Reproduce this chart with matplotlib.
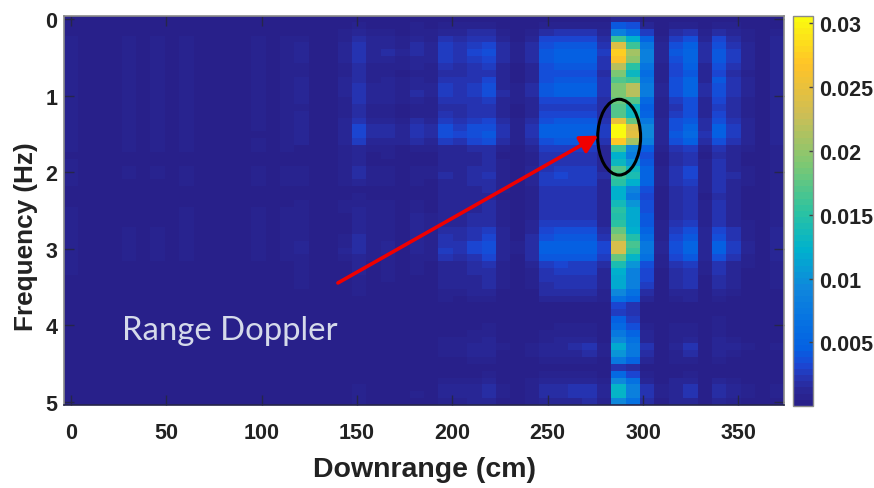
import numpy as np
import matplotlib
matplotlib.use("Agg")
import matplotlib.pyplot as plt
from matplotlib.colors import LinearSegmentedColormap
from matplotlib.patches import Ellipse

xticks = [0, 50, 100, 150, 200, 250, 300, 350]
yticks = [0, 1, 2, 3, 4, 5]
cbar_ticks = [0.005, 0.01, 0.015, 0.02, 0.025, 0.03]
cbar_labels = ['0.005', '0.01', '0.015', '0.02', '0.025', '0.03']
note = 'Range Doppler'
xlabel = 'Downrange (cm)'
ylabel = 'Frequency (Hz)'

# left-hand faint columns, units of 1e-4
A = [6,2,2,2,6,2,6,2,6,2,2,2,2,6,2,6]
B = [6,2,2,2,2,2,2,2,6,2,2,2,2,6,2,6]
C = [2]*16
D = [6]+[2]*15
T = [1]*16

# amplitude per (row, column), units of 1e-4
amplitude = [
 T+[2,2,2,3,4,3,3,2,3,3,4,4,4,5,3,2,3,5,5,5,5,4,10,10,4,2,4,5,3,5,4,2,1,3],
 C+[2,2,2,4,6,4,4,3,6,4,7,7,7,8,5,3,5,9,9,9,9,6,40,35,12,3,7,9,5,8,6,3,2,4],
 C+[5,3,3,6,12,7,7,4,9,6,14,12,15,17,9,4,9,19,20,20,20,12,85,60,28,5,18,23,8,18,12,6,3,7],
 A+[8,3,3,9,18,10,10,6,13,9,20,17,20,24,12,5,13,30,32,32,32,18,160,120,50,8,28,38,12,30,18,8,4,10],
 A+[12,4,4,12,24,14,13,9,16,12,26,22,26,30,15,7,17,38,42,42,42,23,240,160,75,11,36,48,16,38,23,11,5,13],
 A+[12,4,4,13,24,14,15,10,15,12,28,24,30,34,16,7,18,43,48,48,48,25,275,210,85,12,40,52,18,42,26,12,5,14],
 A+[11,4,4,12,23,12,14,9,13,10,27,24,28,33,15,6,17,42,46,46,46,24,265,200,85,12,38,50,17,40,25,12,5,14],
 A+[6,3,3,8,16,8,9,6,10,9,20,18,22,26,12,5,13,36,40,40,40,20,220,150,70,9,32,44,14,34,21,10,4,11],
 A+[6,3,3,7,15,7,8,5,9,8,18,16,20,24,10,4,12,34,38,38,38,19,190,130,60,8,30,42,12,32,19,9,4,10],
 A+[11,4,4,10,18,8,11,6,10,9,22,20,24,30,12,5,14,38,42,40,40,22,170,160,70,9,36,50,14,40,24,11,5,13],
 A+[12,4,4,12,22,13,12,8,14,11,25,22,28,34,14,6,15,40,44,44,44,23,190,220,80,10,38,50,15,38,22,10,4,12],
 A+[12,4,4,12,24,14,12,9,16,12,26,23,28,35,15,6,16,40,44,44,44,22,190,220,80,10,38,50,15,38,22,10,4,12],
 A+[11,4,4,9,20,12,10,7,12,9,22,20,22,26,13,6,13,30,32,32,30,16,180,170,55,8,28,36,12,32,18,9,4,11],
 A+[7,3,3,8,15,8,7,2,6,7,18,17,20,22,10,4,11,26,28,28,28,16,170,130,45,7,24,34,10,28,17,7,3,10],
 A+[10,3,3,9,18,9,8,5,8,8,20,18,22,24,12,5,13,30,30,30,30,18,170,130,50,8,28,36,12,30,19,8,3,10],
 A+[13,4,4,12,24,12,12,8,16,13,26,23,28,32,15,6,17,38,40,40,40,22,250,180,75,10,34,42,16,36,21,10,4,12],
 [9,2,2,2,6,2,6,2,9,2,2,2,2,8,4,9]+[12,4,4,14,30,16,18,12,24,18,36,28,34,38,20,8,22,44,46,46,46,28,305,240,95,14,38,52,18,44,28,13,5,14],
 [9,2,2,2,6,2,6,2,9,2,2,2,2,5,3,9]+[13,4,4,14,30,17,18,12,24,18,38,30,36,42,20,8,22,46,48,48,48,28,305,245,95,14,40,54,20,44,28,13,5,14],
 A+[12,3,3,13,25,14,14,10,18,14,28,24,30,34,16,7,18,38,42,40,40,24,270,210,85,12,36,46,16,36,22,11,4,12],
 A+[4,2,2,7,14,7,7,4,8,7,13,13,16,18,9,3,10,26,28,28,26,14,160,95,45,7,20,28,7,22,14,6,2,8],
 C+[5,2,2,6,12,2,6,2,5,4,10,10,13,15,5,2,8,20,23,23,22,12,120,80,38,4,16,22,5,18,11,5,2,6],
 D+[5,2,2,6,12,4,5,2,5,5,11,11,13,15,6,2,8,20,24,24,23,12,130,105,42,5,18,24,6,20,12,5,2,7],
 A+[6,2,2,7,16,6,7,2,9,6,14,14,16,18,8,3,10,24,28,26,26,14,170,130,50,6,20,30,8,24,14,6,2,8],
 A+[6,2,2,7,16,6,7,3,8,6,15,14,17,20,9,3,11,26,30,28,28,15,160,140,52,7,22,30,9,24,15,7,2,8],
 B+[6,2,2,7,12,6,6,2,6,5,14,14,16,18,8,3,10,26,28,28,28,14,150,120,50,6,22,28,8,24,13,6,2,7],
 C+[2,2,2,3,5,2,2,2,5,5,12,12,14,16,6,2,8,22,24,22,22,12,120,90,35,5,18,24,6,20,11,4,2,6],
 C+[3,2,2,3,6,3,3,2,5,5,11,10,12,14,5,2,7,20,20,20,20,10,120,75,32,4,16,22,5,18,10,4,2,6],
 C+[6,2,2,6,9,6,6,3,6,5,12,11,13,15,6,2,8,22,24,24,22,12,135,105,36,5,18,24,6,20,11,5,2,7],
 B+[6,2,2,6,10,6,6,3,6,5,12,11,14,16,7,3,8,22,24,24,24,12,150,115,38,5,18,24,7,20,12,5,2,7],
 B+[7,2,2,5,10,6,6,2,10,6,13,12,15,17,7,3,9,22,24,24,24,12,145,115,40,5,18,24,7,20,12,5,2,7],
 B+[7,2,2,5,10,6,6,2,10,6,14,13,16,18,8,3,10,26,26,26,26,14,150,115,40,6,20,28,7,22,14,6,2,8],
 A+[8,2,2,5,14,6,6,3,12,7,17,16,22,26,10,4,13,32,34,34,34,18,180,120,52,7,28,36,10,30,20,8,3,10],
 A+[9,3,3,6,15,7,7,4,13,8,21,18,24,30,12,5,15,38,40,40,40,22,200,145,60,8,32,42,12,38,22,9,3,11],
 A+[12,3,3,8,16,8,10,5,14,9,24,21,30,37,14,6,17,44,46,44,46,30,235,165,75,10,36,50,14,44,26,10,4,13],
 A+[12,3,3,10,16,8,11,5,14,9,25,22,30,36,14,6,17,44,46,44,46,30,235,155,75,10,36,50,14,44,26,10,4,13],
 A+[7,3,3,6,14,6,8,3,8,8,20,18,24,30,12,5,15,40,42,40,42,26,180,125,65,9,32,42,12,38,22,8,3,11],
 D+[7,2,2,5,10,5,6,2,6,5,14,13,17,20,8,3,10,28,30,28,28,16,140,105,38,6,22,28,7,22,14,6,2,8],
 D+[7,2,2,2,10,2,6,2,6,5,13,12,15,18,7,2,9,24,26,26,26,14,120,85,32,5,18,24,6,20,12,5,2,7],
 C+[7,2,2,2,9,2,6,2,5,4,12,11,14,17,6,2,9,22,24,24,24,13,115,85,32,5,18,22,5,18,11,4,2,7],
 C+[7,2,2,2,8,2,5,2,4,4,11,10,13,17,6,2,8,19,22,22,22,12,115,85,28,4,16,20,5,16,10,4,2,6],
 C+[2,2,2,2,6,2,3,2,2,3,8,8,10,12,4,2,5,16,18,18,18,9,95,65,18,3,11,14,4,11,8,3,2,5],
 C+[2,2,2,2,5,2,2,2,2,2,6,5,7,8,3,2,4,10,12,11,10,6,65,50,12,2,8,10,3,8,5,2,2,4],
 C+[2,2,2,2,3,2,2,2,2,2,3,3,3,3,2,2,2,3,3,3,4,2,30,20,4,2,3,3,2,3,2,2,2,3],
 C+[2,2,2,2,2,2,2,2,2,2,2,2,3,3,2,2,2,2,3,3,3,2,27,20,4,2,2,3,2,3,2,2,2,3],
 C+[2,2,2,2,2,2,2,2,2,2,3,3,4,4,2,2,3,4,5,5,5,2,45,27,5,2,3,5,2,6,3,2,2,3],
 C+[2,2,2,2,4,2,2,2,2,2,4,3,5,6,3,2,3,5,6,6,6,3,55,35,6,2,6,7,3,6,4,2,2,3],
 C+[2,2,2,2,4,2,2,2,4,2,5,5,6,8,4,2,4,8,8,9,9,4,75,50,10,2,7,9,4,8,5,3,2,4],
 C+[2,2,2,2,5,2,2,2,5,3,6,6,9,11,5,2,5,9,10,11,11,5,95,65,14,3,8,12,4,10,7,4,2,4],
 C+[2,2,2,2,5,2,2,2,5,4,8,8,11,14,6,2,7,14,14,16,20,8,115,75,24,3,14,20,5,14,12,6,2,6],
 C+[2,2,2,2,5,2,2,2,5,3,7,7,10,12,5,2,6,12,13,14,15,7,105,75,18,3,9,16,4,12,7,4,2,5],
 C+[2,2,2,2,3,2,2,2,3,2,5,5,7,8,3,2,4,8,8,9,9,4,75,50,12,2,7,8,3,8,4,2,2,4],
 C+[2,2,2,2,2,2,2,2,2,2,2,2,3,3,2,2,2,3,3,3,3,2,20,15,5,2,3,3,2,3,2,2,2,2],
 C+[2,2,2,2,2,2,2,2,2,2,3,3,5,6,3,2,3,6,6,6,6,3,55,30,8,3,5,6,3,5,4,2,2,3],
 C+[2,2,2,2,4,2,2,2,4,2,6,6,9,11,5,2,6,11,13,12,12,6,95,65,14,3,10,13,4,12,7,4,2,5],
 C+[5,2,2,5,6,2,5,2,5,4,12,10,13,18,7,2,9,18,18,20,22,12,125,85,24,6,14,20,5,18,12,6,2,7],
 C+[5,2,2,5,6,2,5,2,6,5,12,11,14,18,7,2,9,18,18,22,24,12,125,85,24,6,14,20,5,18,12,6,2,7],
 C+[2,2,2,2,6,2,2,2,4,3,8,8,11,14,5,2,6,12,12,14,16,8,95,65,18,3,10,14,4,13,8,4,2,5],
]

plt.rcParams['font.family'] = ['Liberation Sans', 'DejaVu Sans']
W, H = 874, 489
fig = plt.figure(figsize=(W/100, H/100), dpi=100, facecolor='white')
ax = fig.add_axes([64.3/W, 1-406/H, (784-64.3)/W, (406-16.5)/H])
cax = fig.add_axes([793/W, 1-406.7/H, 19.5/W, 390/H])

anchors = [(0.0, '#28208a'), (0.03, '#292694'), (0.06, '#2732ae'), (0.10, '#1a48d6'), (0.14, '#0560e2'),
           (0.20, '#0570e2'), (0.30, '#0f87dc'), (0.40, '#00b2cd'), (0.50, '#2dc3a0'),
           (0.62, '#7dc873'), (0.75, '#cdbe55'), (0.88, '#ffc328'), (1.0, '#fafa0f')]
cmap = LinearSegmentedColormap.from_list('parula_like', anchors, N=64)

Z = np.array(amplitude, dtype=float) * 1e-4
im = ax.imshow(Z, cmap=cmap, vmin=0.00003, vmax=0.0306, aspect='auto', origin='upper',
               interpolation='nearest', extent=(-3.51, 373.96, 5.04, -0.05))

ax.set_xticks(xticks)
ax.set_yticks(yticks)
ax.tick_params(axis='both', direction='in', length=7, width=1, color='#26264a',
               top=True, right=True, labelsize=15.5)
ax.tick_params(axis='x', pad=12)
ax.tick_params(axis='y', pad=5)
for lab in ax.get_xticklabels() + ax.get_yticklabels():
    lab.set_fontweight('bold')
    lab.set_color('#222222')
for name, sp in ax.spines.items():
    sp.set_color('#8a8a8a' if name != 'bottom' else '#26264a')
    sp.set_linewidth(1.2)

ax.set_xlabel(xlabel, fontsize=20.5, fontweight='bold', color='#222222', va='center')
ax.set_ylabel(ylabel, fontsize=18.8, fontweight='bold', color='#222222', va='center')
ax.xaxis.set_label_coords(0.5, -(470-406)/389.5)
ax.yaxis.set_label_coords((26-64.3)/719.7, (406-237)/389.5)

ax.text(83.4, 4.06, note, color='#d5daea', fontsize=23.7, ha='center', va='center', family='Lato')
ax.add_patch(Ellipse((287.5, 1.54), 22.5, 0.99, fill=False, edgecolor='black', linewidth=2.2))
ax.annotate('', xy=(276.5, 1.52), xytext=(140, 3.445),
            arrowprops=dict(arrowstyle='-|>,head_length=0.75,head_width=0.4', color='#f00000',
                            linewidth=2.6, shrinkA=0, shrinkB=0, mutation_scale=14))

cb = fig.colorbar(im, cax=cax)
cb.set_ticks(cbar_ticks, labels=cbar_labels)
cax.tick_params(direction='in', length=3, width=1, color='#444444', labelsize=15.5, pad=5)
for lab in cax.get_yticklabels():
    lab.set_fontweight('bold')
    lab.set_color('#222222')
cb.outline.set_edgecolor('#8a8a8a')
cb.outline.set_linewidth(1)

fig.savefig('out.png', dpi=100, facecolor='white')
